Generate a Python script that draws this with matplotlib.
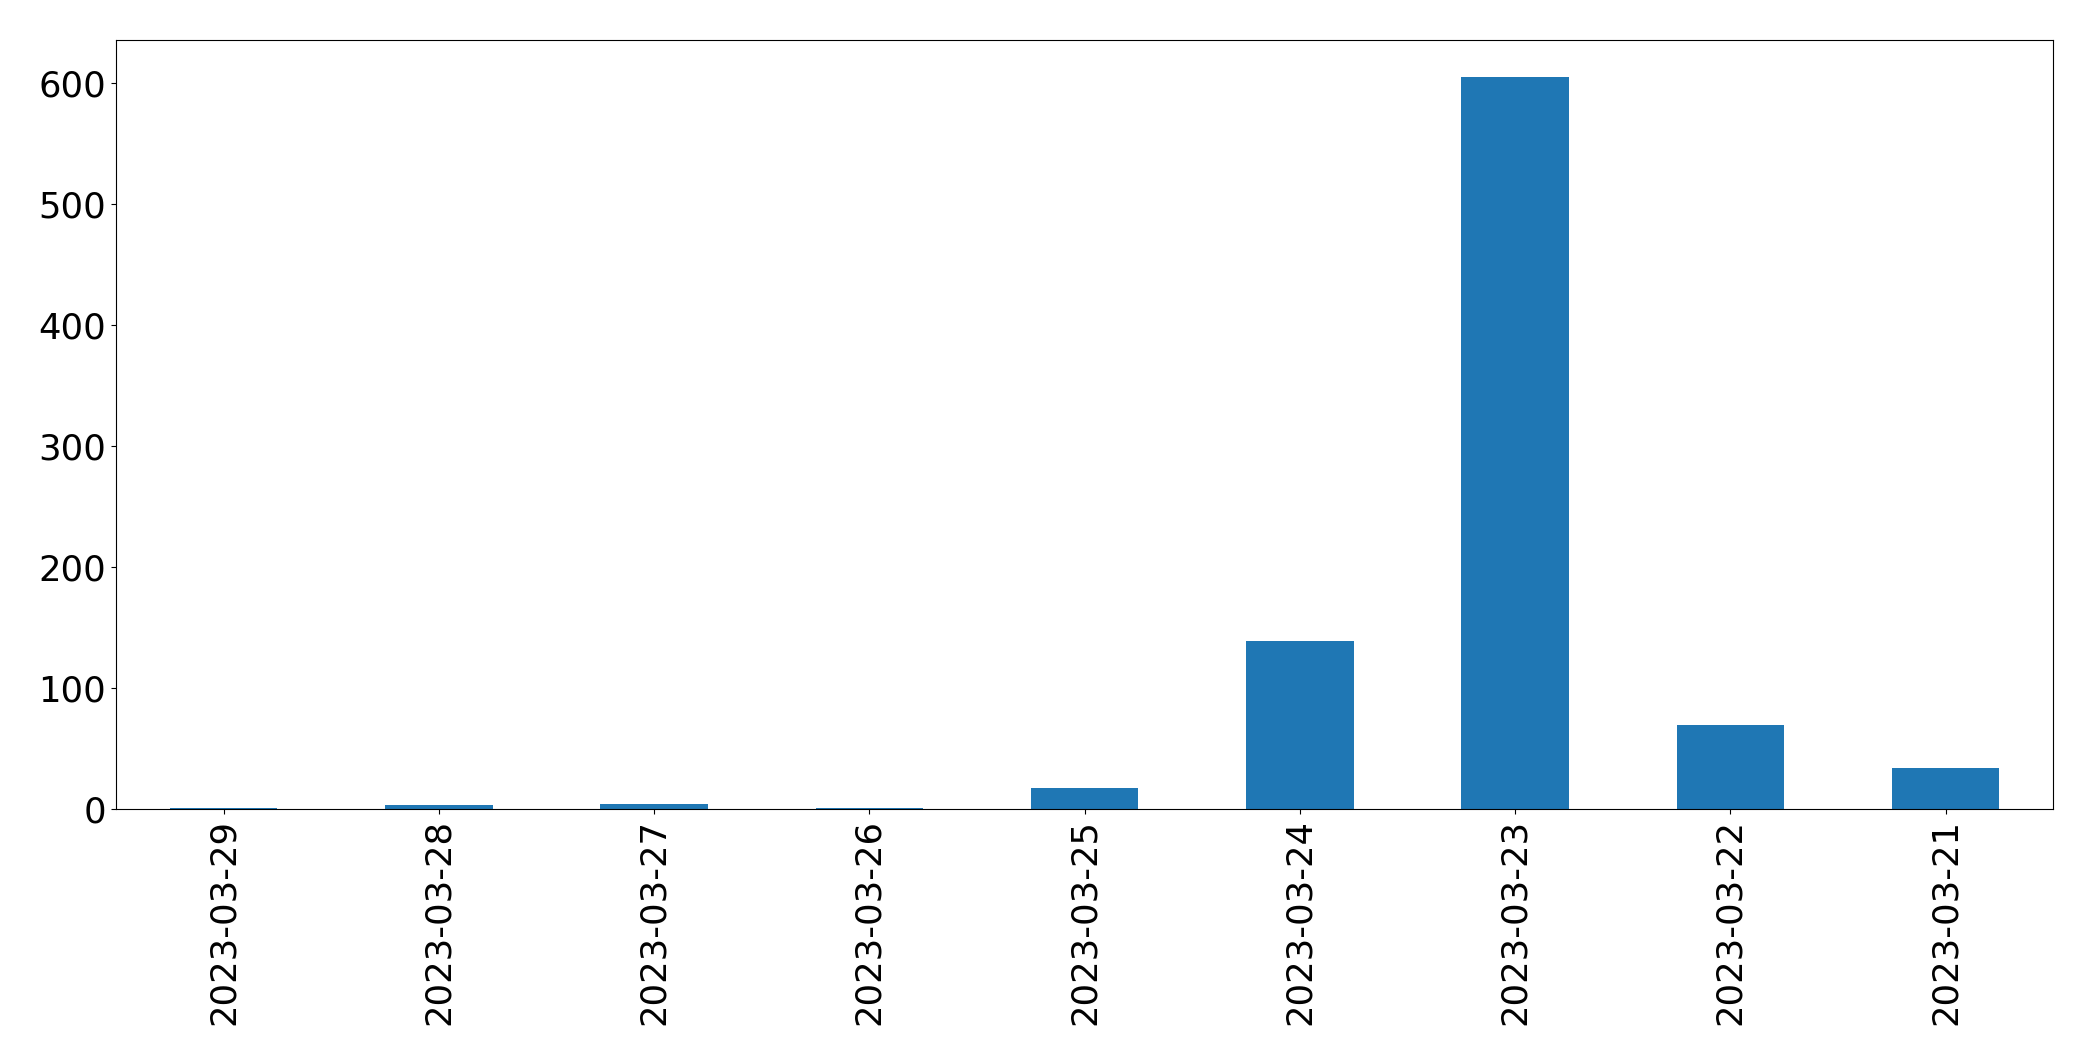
import numpy as np
import matplotlib
matplotlib.use('Agg')
import matplotlib.pyplot as plt

# daily counts, newest first
dates = ['2023-03-29', '2023-03-28', '2023-03-27', '2023-03-26', '2023-03-25',
         '2023-03-24', '2023-03-23', '2023-03-22', '2023-03-21']
counts = [1, 3, 4, 1, 17, 139, 605, 69, 34]

plt.rcParams['font.size'] = 25.5

fig = plt.figure(figsize=(20.93, 10.61), dpi=100)
ax = fig.add_axes([0.0554, 0.2375, 0.9256, 0.7248])

x = np.arange(len(dates))
ax.bar(x, counts, width=0.5, color='#1f77b4')
ax.set_xticks(x)
ax.set_xticklabels(dates, rotation=90)
ax.set_xlim(-0.5, len(dates) - 0.5)
ax.set_ylim(0, max(counts) * 1.05)

fig.savefig('out.png', dpi=100)
